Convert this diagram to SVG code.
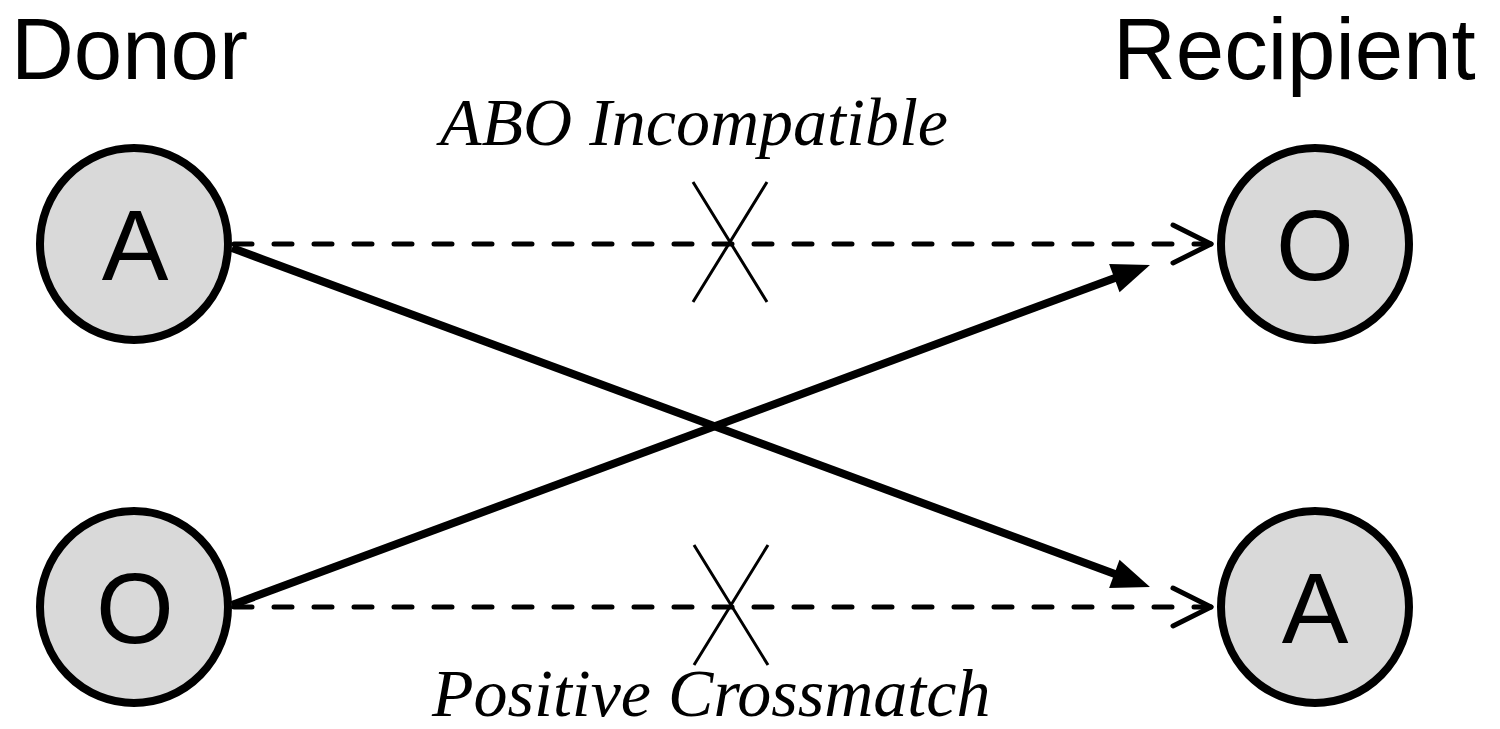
<svg xmlns="http://www.w3.org/2000/svg" width="1500" height="729" viewBox="0 0 1500 729">
<style>
.node{fill:#d9d9d9;stroke:#000;stroke-width:8}
.nl{font-family:"Liberation Sans",Arial,sans-serif;font-size:100px;text-anchor:middle;fill:#000}
.hd{font-family:"Liberation Sans",Arial,sans-serif;font-size:87px;fill:#000}
.lbl{font-family:"Liberation Serif","Times New Roman",serif;font-style:italic;font-size:68px;fill:#000}
.dash{stroke:#000;stroke-width:5;stroke-dasharray:18 22;stroke-linecap:round;fill:none}
.solid{stroke:#000;stroke-width:8;fill:none}
.x{stroke:#000;stroke-width:3;fill:none}
</style>
<defs>
<marker id="open" markerUnits="userSpaceOnUse" markerWidth="50" markerHeight="50" viewBox="-45 -25 50 50" refX="0" refY="0" orient="auto">
<path d="M-38,-19 L0,0 L-38,19" fill="none" stroke="#000" stroke-width="5" stroke-linecap="round" stroke-linejoin="round"/>
</marker>
<marker id="solid" markerUnits="userSpaceOnUse" markerWidth="50" markerHeight="50" viewBox="-5 -25 50 50" refX="10" refY="0" orient="auto">
<path d="M0,-15 L38,0 L0,15 Z" fill="#000"/>
</marker>
</defs>
<text class="hd" x="11" y="79">Donor</text>
<text class="hd" x="1113" y="79">Recipient</text>
<g id="connectors">
<line class="dash" x1="234" y1="244" x2="1211" y2="244" marker-end="url(#open)"/>
<line class="dash" x1="234" y1="607" x2="1211" y2="607" marker-end="url(#open)"/>
<line class="solid" x1="232" y1="248" x2="1123.7" y2="577.3" marker-end="url(#solid)"/>
<line class="solid" x1="232" y1="605" x2="1123.7" y2="274.7" marker-end="url(#solid)"/>
<path class="x" d="M693,182 L767,302 M767,182 L693,302"/>
<path class="x" d="M694,545 L768,665 M768,545 L694,665"/>
<text class="lbl" x="440" y="145">ABO Incompatible</text>
<text class="lbl" x="432" y="716">Positive Crossmatch</text>
</g>
<g id="donorA"><ellipse class="node" cx="134" cy="244" rx="94" ry="96"/><text class="nl" x="135" y="280">A</text></g>
<g id="donorO"><ellipse class="node" cx="134" cy="607" rx="94" ry="96"/><text class="nl" x="135" y="643">O</text></g>
<g id="recipO"><ellipse class="node" cx="1315" cy="244" rx="94" ry="96"/><text class="nl" x="1315" y="280">O</text></g>
<g id="recipA"><ellipse class="node" cx="1315" cy="607" rx="94" ry="96"/><text class="nl" x="1315" y="643">A</text></g>
</svg>
